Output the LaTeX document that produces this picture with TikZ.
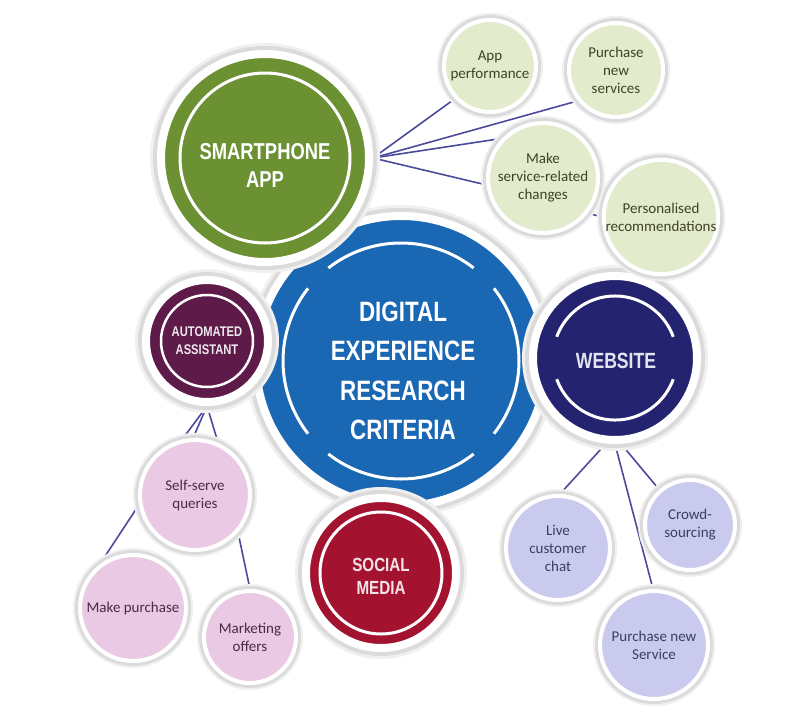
\documentclass[tikz,border=0pt]{standalone}
\usepackage{fontspec}
\setmainfont{Carlito}
\newfontfamily\headfont[FakeStretch=0.8]{Liberation Sans}
\usetikzlibrary{backgrounds}

\definecolor{MainBlue}{HTML}{1A67B3}
\definecolor{AppGreen}{HTML}{6C9133}
\definecolor{AssistPlum}{HTML}{5E1B4A}
\definecolor{WebNavy}{HTML}{24236F}
\definecolor{SocialRed}{HTML}{A3132F}
\definecolor{LeafGreen}{HTML}{E2ECCD}
\definecolor{LeafPink}{HTML}{E9C9E3}
\definecolor{LeafLilac}{HTML}{CACAEE}
\definecolor{GreenInk}{HTML}{3F4128}
\definecolor{PinkInk}{HTML}{4A2B46}
\definecolor{LilacInk}{HTML}{3D3D5E}
\definecolor{LinkBlue}{HTML}{4B4A9C}

\newcommand{\hubfont}[2]{\headfont\bfseries\fontsize{#1}{#2}\selectfont}

\tikzset{
    hub/.style={circle, fill=#1, draw=white, line width=8pt, inner sep=0pt,
        preaction={draw=black!6, line width=22pt},
        preaction={draw=black!14, line width=16pt}},
    hubtitle/.style={text=white, align=center, inner sep=0pt},
    leaf/.style={circle, fill=#1, draw=white, line width=4pt, inner sep=0pt,
        preaction={draw=black!6, line width=14pt},
        preaction={draw=black!14, line width=10pt},
        font=\fontsize{15}{18}\selectfont, align=center},
    ring/.style={draw=white, line width=3pt},
    link/.style={draw=LinkBlue, line width=1.6pt},
}

\begin{document}
\begin{tikzpicture}[x=1pt, y=-1pt]
    \useasboundingbox (0,0) rectangle (811,720);

    % Main circle and the four channels
    \node [hub=MainBlue, minimum size=290pt] (Main) at (401,361) {};
    \node [hub=AppGreen, minimum size=208pt] (Smartphone) at (265,158) {};
    \node [hub=AssistPlum, minimum size=122pt] (Assistant) at (207,341) {};
    \node [hub=WebNavy, minimum size=164pt] (Website) at (615,358) {};
    \node [hub=SocialRed, minimum size=150pt] (Social) at (381,573) {};

    \node [hubtitle, font=\hubfont{28}{39.5}] (MainTitle) at (403,371) {DIGITAL\\EXPERIENCE\\RESEARCH\\CRITERIA};
    \node [hubtitle, font=\hubfont{23}{28}] (SmartTitle) at (265,165) {SMARTPHONE\\APP};
    \node [hubtitle, font=\hubfont{14}{18}, text=white!90!AssistPlum] (AssistTitle) at (207,341) {AUTOMATED\\ASSISTANT};
    \node [hubtitle, font=\hubfont{22}{26}, text=white!88!WebNavy] (WebTitle) at (616,361) {WEBSITE};
    \node [hubtitle, font=\hubfont{19}{23}, text=white!88!SocialRed] (SocialTitle) at (381,576) {SOCIAL\\MEDIA};

    % Inner white rings
    \foreach \a in {0, 90, 180, 270} {
        \draw [ring] (Main.center) ++(\a-38:118pt) arc [start angle=\a-38, end angle=\a+38, radius=118pt];
    }
    \draw [ring] (Smartphone.center) circle (85pt);
    \draw [ring, line width=2.5pt] (Assistant.center) circle (46pt);
    \draw [ring] (Social.center) circle (61pt);
    \draw [ring] (Website.center) ++(20:62pt) arc [start angle=20, end angle=160, radius=62pt];
    \draw [ring] (Website.center) ++(200:62pt) arc [start angle=200, end angle=340, radius=62pt];

    % Smartphone app topics
    \node [leaf=LeafGreen, minimum size=92pt, text=GreenInk] (AppPerf) at (490,66) {App\\performance};
    \node [leaf=LeafGreen, minimum size=94pt, text=GreenInk] (BuyNew) at (616,70) {Purchase\\new\\services};
    \node [leaf=LeafGreen, minimum size=110pt, text=GreenInk] (Changes) at (543,178) {Make\\service-related\\changes};
    \node [leaf=LeafGreen, minimum size=108pt, text=GreenInk] (Personal) at (661,217) {Personalised\\recommendations};

    % Assistant topics
    \node [leaf=LeafPink, minimum size=110pt, text=PinkInk] (SelfServe) at (195,495) {Self-serve\\queries};
    \node [leaf=LeafPink, minimum size=106pt, text=PinkInk] (MakePurch) at (133,608) {Make purchase};
    \node [leaf=LeafPink, minimum size=92pt, text=PinkInk] (Marketing) at (250,637) {Marketing\\offers};

    % Website topics
    \node [leaf=LeafLilac, minimum size=104pt, text=LilacInk] (LiveChat) at (558,548) {Live\\customer\\chat};
    \node [leaf=LeafLilac, minimum size=90pt, text=LilacInk] (Crowd) at (690,525) {Crowd-\\sourcing};
    \node [leaf=LeafLilac, minimum size=108pt, text=LilacInk] (BuySvc) at (654,645) {Purchase new\\Service};

    \coordinate (AppHub) at (Smartphone.east);
    \coordinate (AssistHub) at (Assistant.south);

    % Draw the links
    \begin{scope}[on background layer]
        \draw [link] (AppHub) -- (AppPerf.223);
        \draw [link] (AppHub) -- (BuyNew.219);
        \draw [link] (AppHub) -- (Changes.136);
        \draw [link] (AppHub) -- (Changes.187);
        \draw [link] (Changes.322) -- (Personal.west);

        \draw [link] (AssistHub) -- (SelfServe.103);
        \draw [link] (AssistHub) -- (SelfServe.92);
        \draw [link] (AssistHub) -- (SelfServe.66);
        \draw [link] (SelfServe.190) -- (MakePurch.127);
        \draw [link] (SelfServe.319) -- (Marketing.90);

        \draw [link] (Website.264) -- (LiveChat.88);
        \draw [link] (Website.270) -- (BuySvc.91);
        \draw [link] (Website.274) -- (Crowd.131);
    \end{scope}
\end{tikzpicture}
\end{document}
